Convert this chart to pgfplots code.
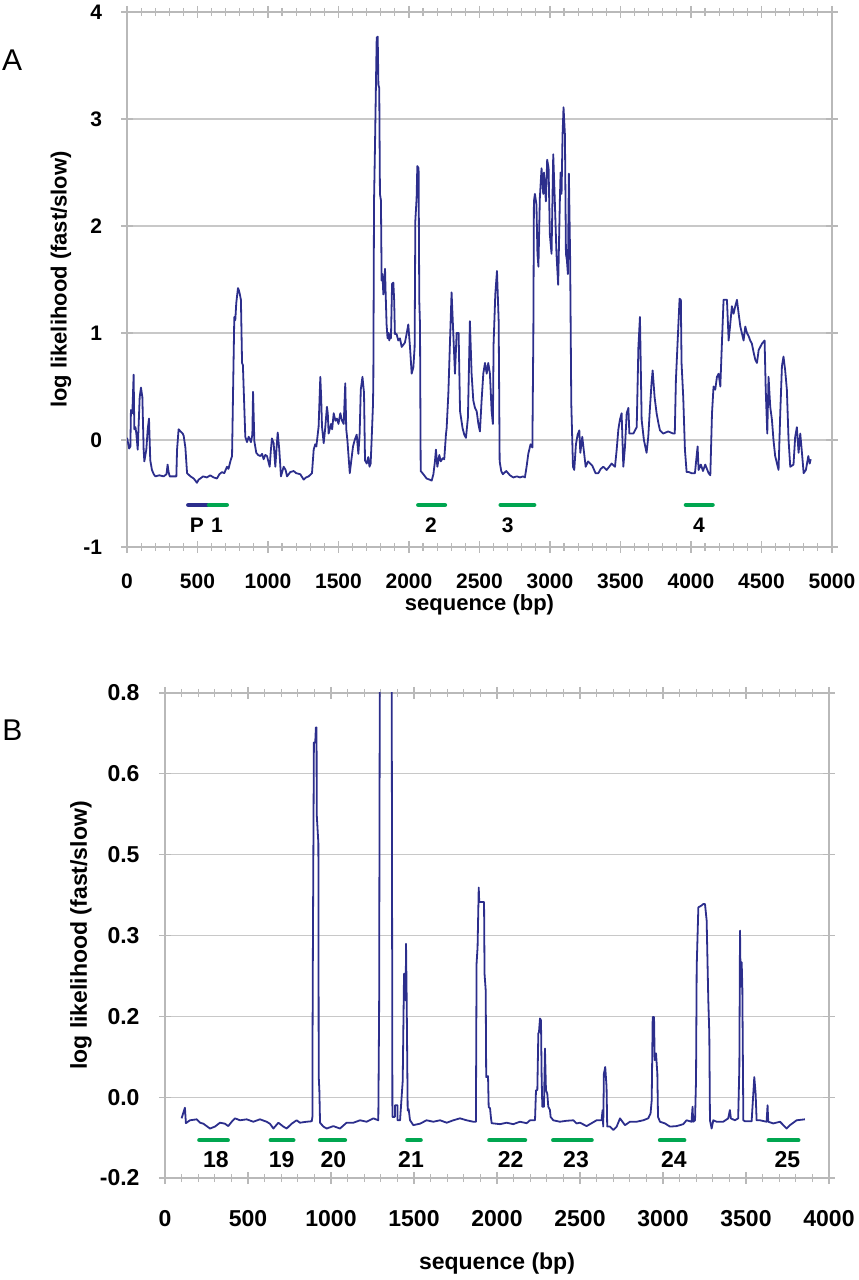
\documentclass[border=0pt]{standalone}
\usepackage{fontspec}
\setmainfont{Liberation Sans}
\usepackage{pgfplots}
\pgfplotsset{compat=1.18}
\definecolor{lineblue}{RGB}{44,46,140}
\definecolor{bargreen}{RGB}{0,166,80}
\definecolor{gridgray}{RGB}{200,200,200}
\definecolor{axgray}{RGB}{185,185,185}
\pgfplotsset{
  common/.style={
    scale only axis,
    axis line style={axgray, line width=0.6pt},
    tick style={axgray, line width=0.6pt},
    ymajorgrids, grid style={gridgray, line width=0.6pt},
    xtick align=center, ytick align=center,
    major tick length=6pt, minor tick length=4pt,
    minor x tick num=4,
    clip mode=individual,
    /pgf/number format/assume math mode=true,
    label style={font=\bfseries\fontsize{11}{13}\selectfont},
  },
  blueline/.style={lineblue, line width=0.9pt, mark=none, line join=round},
  gbar/.style={bargreen, line width=2.2pt, line cap=round, mark=none},
  bbar/.style={lineblue, line width=2.2pt, line cap=round, mark=none},
}
\begin{document}
\begin{tikzpicture}
\useasboundingbox (0,0) rectangle (429pt,640pt);
% ---------------- Panel A ----------------
\begin{axis}[common,
  at={(63.5pt,366.5pt)}, anchor=south west,
  width=352.5pt, height=267.5pt,
  xmin=0, xmax=5000, ymin=-1, ymax=4,
  xtick={0,500,1000,1500,2000,2500,3000,3500,4000,4500,5000},
  xticklabels={0,500,1000,1500,2000,2500,3000,3500,4000,4500,5000},
  ytick={-1,0,1,2,3,4}, yticklabels={-1,0,1,2,3,4},
  tick label style={font=\bfseries\fontsize{10.5}{12}\selectfont, black},
  xticklabel style={yshift=-7pt},
  yticklabel style={xshift=-6pt},
  xlabel={sequence (bp)}, ylabel={log likelihood (fast/slow)},
  xlabel style={at={(rel axis cs:0.5,-0.1075)}, anchor=center},
  ylabel style={at={(rel axis cs:-0.0936,0.5)}, anchor=center},
]
\addplot[blueline] table {
0 0.02
8 -0.03
15 -0.08
24 -0.06
28 0.28
38 0.25
47 0.61
52 0.10
60 0.12
66 0.06
76 -0.09
90 0.40
99 0.49
109 0.40
118 -0.09
123 -0.20
137 -0.09
147 0.10
156 0.20
165 -0.19
177 -0.28
190 -0.32
201 -0.34
230 -0.33
260 -0.34
280 -0.32
288 -0.23
295 -0.30
303 -0.34
350 -0.34
355 -0.09
366 0.10
380 0.08
395 0.06
402 0.04
414 -0.07
426 -0.31
450 -0.34
473 -0.36
485 -0.38
496 -0.40
508 -0.37
520 -0.36
540 -0.34
567 -0.35
590 -0.33
615 -0.35
638 -0.36
655 -0.32
674 -0.30
690 -0.31
709 -0.25
720 -0.27
733 -0.20
745 -0.15
752 0.43
761 1.15
768 1.12
775 1.28
787 1.42
793 1.40
799 1.37
808 1.31
816 0.72
822 0.70
827 0.50
839 0.03
851 -0.02
863 0.03
879 -0.02
889 0.05
894 0.45
899 0.20
903 -0.01
917 -0.12
930 -0.14
946 -0.15
958 -0.13
969 -0.18
981 -0.14
993 -0.15
1012 -0.25
1020 -0.10
1028 0.015
1040 -0.03
1052 -0.25
1062 -0.05
1069 0.07
1080 -0.09
1092 -0.34
1111 -0.25
1125 -0.28
1135 -0.34
1158 -0.30
1182 -0.29
1200 -0.31
1229 -0.32
1253 -0.37
1270 -0.35
1288 -0.34
1312 -0.31
1324 -0.09
1335 -0.04
1343 -0.06
1359 0.125
1371 0.59
1377 0.40
1383 0.125
1395 -0.03
1405 0.10
1418 0.31
1424 0.25
1430 0.06
1447 0.15
1455 0.10
1466 0.25
1478 0.18
1489 0.20
1500 0.15
1513 0.25
1525 0.18
1537 0.15
1548 0.53
1555 0.10
1563 0.00
1580 -0.31
1590 -0.20
1603 -0.06
1615 0.00
1629 0.05
1641 -0.13
1650 0.06
1658 0.47
1670 0.59
1681 0.44
1688 -0.19
1700 -0.22
1711 -0.16
1720 -0.25
1728 -0.22
1735 0.00
1744 0.31
1747 0.52
1752 2.23
1759 2.76
1766 3.36
1771 3.76
1778 3.77
1783 3.32
1789 3.29
1794 2.30
1801 2.24
1806 1.49
1812 1.55
1818 1.36
1824 1.45
1830 1.60
1834 1.39
1841 1.08
1848 0.95
1855 1.00
1860 0.93
1867 0.99
1872 0.95
1880 1.46
1889 1.47
1895 1.30
1900 0.99
1912 0.99
1924 0.93
1936 0.95
1948 0.87
1960 0.89
1971 0.91
1983 0.99
1995 1.08
2007 0.87
2019 0.62
2031 0.68
2040 0.87
2045 2.05
2054 2.26
2059 2.56
2068 2.54
2073 1.30
2078 1.08
2083 -0.29
2102 -0.32
2125 -0.36
2145 -0.37
2161 -0.38
2173 -0.32
2184 -0.20
2191 -0.09
2201 -0.25
2215 -0.14
2225 -0.20
2240 -0.17
2250 -0.18
2262 0.05
2267 0.11
2279 0.43
2291 0.93
2302 1.38
2314 1.00
2326 0.62
2338 1.00
2352 1.00
2362 0.27
2380 0.11
2392 0.05
2404 0.02
2418 0.21
2432 1.11
2444 0.62
2456 0.37
2468 0.30
2480 0.27
2492 0.15
2503 0.08
2515 0.37
2527 0.62
2539 0.72
2551 0.62
2562 0.72
2574 0.62
2586 0.27
2595 0.15
2600 0.90
2612 1.36
2624 1.58
2636 1.11
2643 -0.20
2654 -0.29
2666 -0.32
2690 -0.29
2716 -0.33
2740 -0.35
2765 -0.34
2787 -0.35
2810 -0.34
2822 -0.35
2834 -0.25
2846 -0.13
2862 -0.04
2875 -0.07
2882 1.00
2886 2.23
2893 2.30
2904 2.20
2911 1.74
2918 1.62
2928 2.26
2940 2.54
2952 2.30
2957 2.50
2971 2.23
2980 2.62
2990 2.54
2999 1.92
3011 1.74
3023 2.67
3034 2.24
3046 1.74
3058 1.45
3070 2.24
3075 2.50
3082 2.30
3089 2.85
3096 3.11
3106 2.85
3113 1.74
3120 1.68
3127 1.55
3134 2.49
3143 1.68
3151 0.34
3163 -0.25
3172 -0.28
3184 -0.04
3196 0.05
3208 0.09
3215 -0.12
3229 0.03
3240 -0.10
3253 -0.25
3270 -0.20
3300 -0.24
3323 -0.31
3343 -0.31
3360 -0.27
3378 -0.25
3402 -0.28
3420 -0.25
3437 -0.22
3461 -0.25
3473 -0.09
3485 0.10
3496 0.19
3508 0.25
3520 -0.25
3532 -0.06
3544 0.25
3556 0.30
3563 0.06
3591 0.06
3615 0.12
3627 0.87
3638 1.15
3650 0.19
3666 0.00
3685 -0.12
3697 0.03
3708 0.28
3720 0.53
3728 0.65
3742 0.40
3756 0.25
3770 0.15
3780 0.09
3803 0.06
3838 0.08
3874 0.06
3885 0.06
3893 0.56
3910 1.06
3919 1.32
3928 1.31
3933 0.72
3945 0.40
3957 -0.09
3969 -0.30
3985 -0.30
4004 -0.31
4028 -0.31
4040 -0.15
4047 -0.06
4054 -0.28
4070 -0.23
4085 -0.29
4101 -0.23
4125 -0.31
4137 -0.33
4149 0.25
4160 0.50
4172 0.47
4184 0.59
4196 0.62
4208 0.50
4220 0.93
4231 1.31
4255 1.31
4267 0.93
4279 1.09
4290 1.25
4302 1.18
4314 1.25
4326 1.31
4338 1.18
4350 1.06
4373 0.93
4385 1.06
4397 1.00
4409 0.97
4420 0.93
4432 0.90
4444 0.82
4456 0.75
4468 0.72
4480 0.84
4503 0.90
4522 0.93
4530 0.47
4541 0.06
4550 0.59
4562 0.31
4574 0.19
4585 0.00
4597 -0.15
4621 -0.28
4633 0.25
4645 0.69
4656 0.78
4668 0.65
4680 0.47
4692 0.00
4704 -0.25
4727 -0.23
4739 0.03
4751 0.12
4763 -0.12
4775 0.06
4787 -0.12
4799 -0.31
4815 -0.28
4832 -0.15
4842 -0.22
4849 -0.18
};
\addplot[bbar] coordinates {(435,-0.607) (569,-0.607)};
\addplot[gbar] coordinates {(582,-0.607) (708,-0.607)};
\addplot[gbar] coordinates {(2066,-0.607) (2255,-0.607)};
\addplot[gbar] coordinates {(2650,-0.607) (2888,-0.607)};
\addplot[gbar] coordinates {(3964,-0.607) (4153,-0.607)};
\begin{scope}[every node/.style={font=\bfseries\fontsize{10.5}{12}\selectfont}]
\node at (axis cs:496,-0.80) {P};
\node at (axis cs:638,-0.80) {1};
\node at (axis cs:2156,-0.80) {2};
\node at (axis cs:2700,-0.80) {3};
\node at (axis cs:4057,-0.80) {4};
\end{scope}
\node[font=\fontsize{15}{18}\selectfont] at (rel axis cs:-0.163,0.910) {A};
\end{axis}
% ---------------- Panel B ----------------
\begin{axis}[common,
  at={(82.5pt,51pt)}, anchor=south west,
  width=332pt, height=242.5pt,
  xmin=0, xmax=4000, ymin=-0.2, ymax=0.8,
  xtick={0,500,1000,1500,2000,2500,3000,3500,4000},
  xticklabels={0,500,1000,1500,2000,2500,3000,3500,4000},
  ytick={-0.2,-0.03333,0.13333,0.3,0.46667,0.63333,0.8},
  yticklabels={-0.2,0.0,0.2,0.3,0.5,0.6,0.8},
  tick label style={font=\bfseries\fontsize{11.5}{13}\selectfont, black},
  xticklabel style={yshift=-9.5pt},
  yticklabel style={xshift=-6.2pt},
  xlabel={sequence (bp)}, ylabel={log likelihood (fast/slow)},
  label style={font=\bfseries\fontsize{11.5}{13}\selectfont},
  xlabel style={at={(rel axis cs:0.5,-0.176)}, anchor=center},
  ylabel style={at={(rel axis cs:-0.1265,0.5)}, anchor=center},
]
\addplot[blueline] table {
100 -0.077
120 -0.055
126 -0.087
150 -0.081
191 -0.079
211 -0.086
231 -0.088
271 -0.098
301 -0.094
331 -0.086
361 -0.088
381 -0.093
402 -0.084
422 -0.077
452 -0.081
492 -0.079
532 -0.084
572 -0.079
612 -0.084
632 -0.088
653 -0.098
683 -0.086
713 -0.094
733 -0.098
763 -0.088
793 -0.081
813 -0.086
853 -0.084
884 -0.083
888 -0.074
889 0.10
891 0.276
897 0.698
905 0.698
909 0.729
913 0.729
914 0.55
924 0.49
926 0.01
930 -0.02
934 -0.086
954 -0.094
974 -0.098
1014 -0.093
1054 -0.098
1094 -0.086
1135 -0.086
1175 -0.081
1215 -0.084
1255 -0.077
1285 -0.081
1290 0.152
1295 1.0
1365 1.0
1370 -0.074
1385 -0.074
1386 -0.05
1400 -0.05
1401 -0.081
1416 -0.081
1432 0.0
1440 0.221
1446 0.221
1450 0.166
1452 0.283
1456 0.166
1462 -0.061
1468 -0.058
1476 -0.081
1496 -0.091
1536 -0.088
1576 -0.081
1616 -0.084
1657 -0.081
1697 -0.086
1737 -0.081
1777 -0.077
1817 -0.081
1857 -0.084
1873 -0.084
1877 0.242
1883 0.276
1890 0.399
1893 0.369
1922 0.369
1925 0.221
1932 0.187
1935 0.008
1946 0.01
1950 -0.054
1958 -0.056
1964 -0.077
1968 -0.087
2018 -0.089
2058 -0.086
2098 -0.089
2138 -0.084
2179 -0.087
2199 -0.081
2229 -0.081
2235 -0.019
2243 -0.019
2249 0.098
2253 0.101
2259 0.129
2265 0.125
2269 0.008
2273 -0.053
2283 -0.053
2289 0.067
2295 -0.019
2303 -0.026
2309 -0.053
2319 -0.060
2323 -0.074
2339 -0.081
2379 -0.084
2420 -0.082
2460 -0.081
2480 -0.0875
2500 -0.086
2540 -0.093
2560 -0.089
2600 -0.081
2630 -0.081
2636 -0.060
2640 -0.094
2644 0.015
2652 0.029
2660 -0.012
2664 -0.094
2680 -0.094
2701 -0.101
2721 -0.094
2741 -0.077
2771 -0.091
2801 -0.084
2841 -0.084
2881 -0.081
2911 -0.077
2925 -0.067
2932 -0.040
2938 0.132
2946 0.132
2950 0.043
2958 0.057
2966 0.015
2970 -0.074
2982 -0.084
3012 -0.0875
3042 -0.094
3082 -0.093
3122 -0.089
3142 -0.081
3172 -0.084
3178 -0.053
3182 -0.084
3193 -0.081
3199 0.002
3203 0.235
3213 0.358
3233 0.362
3243 0.365
3253 0.365
3263 0.331
3273 0.166
3279 0.098
3283 -0.081
3293 -0.098
3303 -0.081
3323 -0.084
3363 -0.084
3393 -0.077
3403 -0.060
3409 -0.077
3433 -0.081
3453 -0.077
3460 0.029
3464 0.310
3468 0.194
3474 0.245
3478 0.194
3484 -0.081
3494 -0.083
3534 -0.083
3544 -0.026
3550 0.008
3558 -0.026
3564 -0.081
3584 -0.081
3624 -0.084
3630 -0.050
3634 -0.084
3664 -0.0875
3705 -0.084
3745 -0.098
3765 -0.091
3805 -0.081
3855 -0.079
};
\addplot[gbar] coordinates {(207,-0.122) (378,-0.122)};
\addplot[gbar] coordinates {(637,-0.122) (773,-0.122)};
\addplot[gbar] coordinates {(934,-0.122) (1084,-0.122)};
\addplot[gbar] coordinates {(1460,-0.122) (1540,-0.122)};
\addplot[gbar] coordinates {(1954,-0.122) (2169,-0.122)};
\addplot[gbar] coordinates {(2339,-0.122) (2570,-0.122)};
\addplot[gbar] coordinates {(2982,-0.122) (3128,-0.122)};
\addplot[gbar] coordinates {(3637,-0.122) (3815,-0.122)};
\begin{scope}[every node/.style={font=\bfseries\fontsize{11.5}{13}\selectfont}]
\node at (axis cs:307,-0.162) {18};
\node at (axis cs:703,-0.162) {19};
\node at (axis cs:1014,-0.162) {20};
\node at (axis cs:1482,-0.162) {21};
\node at (axis cs:2082,-0.162) {22};
\node at (axis cs:2476,-0.162) {23};
\node at (axis cs:3066,-0.162) {24};
\node at (axis cs:3749,-0.162) {25};
\end{scope}
\node[font=\fontsize{15}{18}\selectfont] at (rel axis cs:-0.230,0.924) {B};
\end{axis}
\end{tikzpicture}
\end{document}
